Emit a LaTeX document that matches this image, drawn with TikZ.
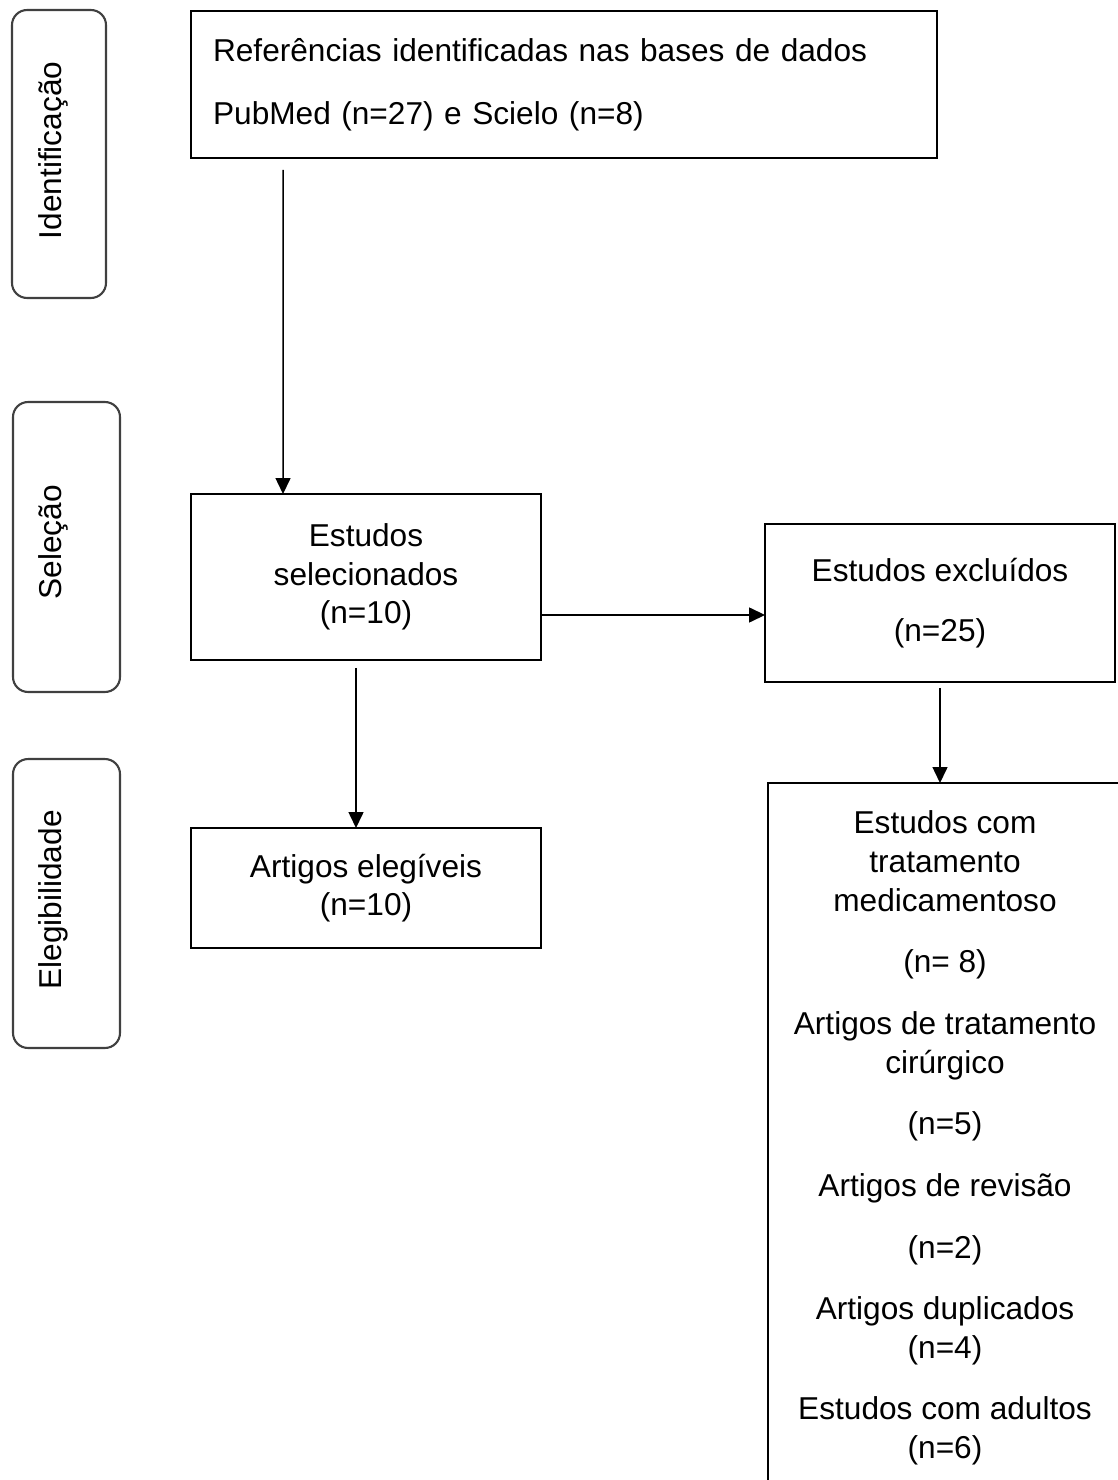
\documentclass[tikz,border=0pt]{standalone}
\usepackage{fontspec}
\setmainfont{Liberation Sans}
\usetikzlibrary{arrows.meta}
\newcommand{\fonte}{\fontsize{18}{22}\selectfont}
\newcommand{\gap}{\\[0.46cm]}

\begin{document}
\begin{tikzpicture}[x=0.02cm, y=-0.02cm,
    caixa/.style={draw, line width=1.1pt, outer sep=0pt, align=center, font=\fonte},
    fase/.style={draw=black!75, line width=1.2pt, rounded corners=0.3cm, outer sep=0pt},
    rotulo/.style={rotate=90, anchor=base, font=\fonte},
    seta/.style={line width=0.85pt, -{Triangle[length=0.32cm, width=0.3cm]}}]

 \useasboundingbox[fill=white] (0,0) rectangle (1117,1480);

 \node[fase, minimum width=1.88cm, minimum height=5.76cm] (fase1) at (59,154) {};
 \node[fase, minimum width=2.14cm, minimum height=5.8cm] (fase2) at (66.5,547) {};
 \node[fase, minimum width=2.14cm, minimum height=5.78cm] (fase3) at (66.5,903.5) {};
 \node[rotulo] (rot1) at (61.5,150.5) {Identificação};
 \node[rotulo] (rot2) at (61.5,542.5) {Seleção};
 \node[rotulo] (rot3) at (61.5,900) {Elegibilidade};

 \node[caixa, align=left, text width=14.04cm, inner xsep=0.44cm, minimum height=2.94cm] (topo) at (564,84.5)
   {Referências identificadas nas bases de dados\\[0.48cm] PubMed (n=27) e Scielo (n=8)};
 \node[caixa, minimum width=7cm, minimum height=3.32cm] (sel) at (366,577) {Estudos\\ selecionados\\ (n=10)};
 \node[caixa, minimum width=7cm, minimum height=3.16cm] (excl) at (940,603) {Estudos excluídos\\[0.43cm] (n=25)};
 \node[caixa, minimum width=7cm, minimum height=2.4cm] (eleg) at (366,888) {Artigos elegíveis\\ (n=10)};

 \draw[line width=1.1pt] (1130,783) -- (768,783) -- (768,1500);
 \coordinate (motivos topo) at (940,783);
 \node[align=center, font=\fonte] (motivos) at (945,1138)
   {Estudos com\\ tratamento\\ medicamentoso\gap (n= 8)\gap Artigos de tratamento\\ cirúrgico\gap
    (n=5)\gap Artigos de revisão\gap (n=2)\gap Artigos duplicados\\ (n=4)\gap Estudos com adultos\\ (n=6)};

 \draw[seta, shorten <=0.24cm] ([xshift=1.84cm]topo.south west) -- ([xshift=1.84cm]sel.north west);
 \coordinate (saida) at ([yshift=-0.76cm]sel.east);
 \draw[seta] (saida) -- (saida -| excl.west);
 \draw[seta, shorten <=0.16cm] ([xshift=-0.2cm]sel.south) -- ([xshift=-0.2cm]eleg.north);
 \draw[seta, shorten <=0.12cm] (excl) -- (motivos topo);

\end{tikzpicture}
\end{document}
